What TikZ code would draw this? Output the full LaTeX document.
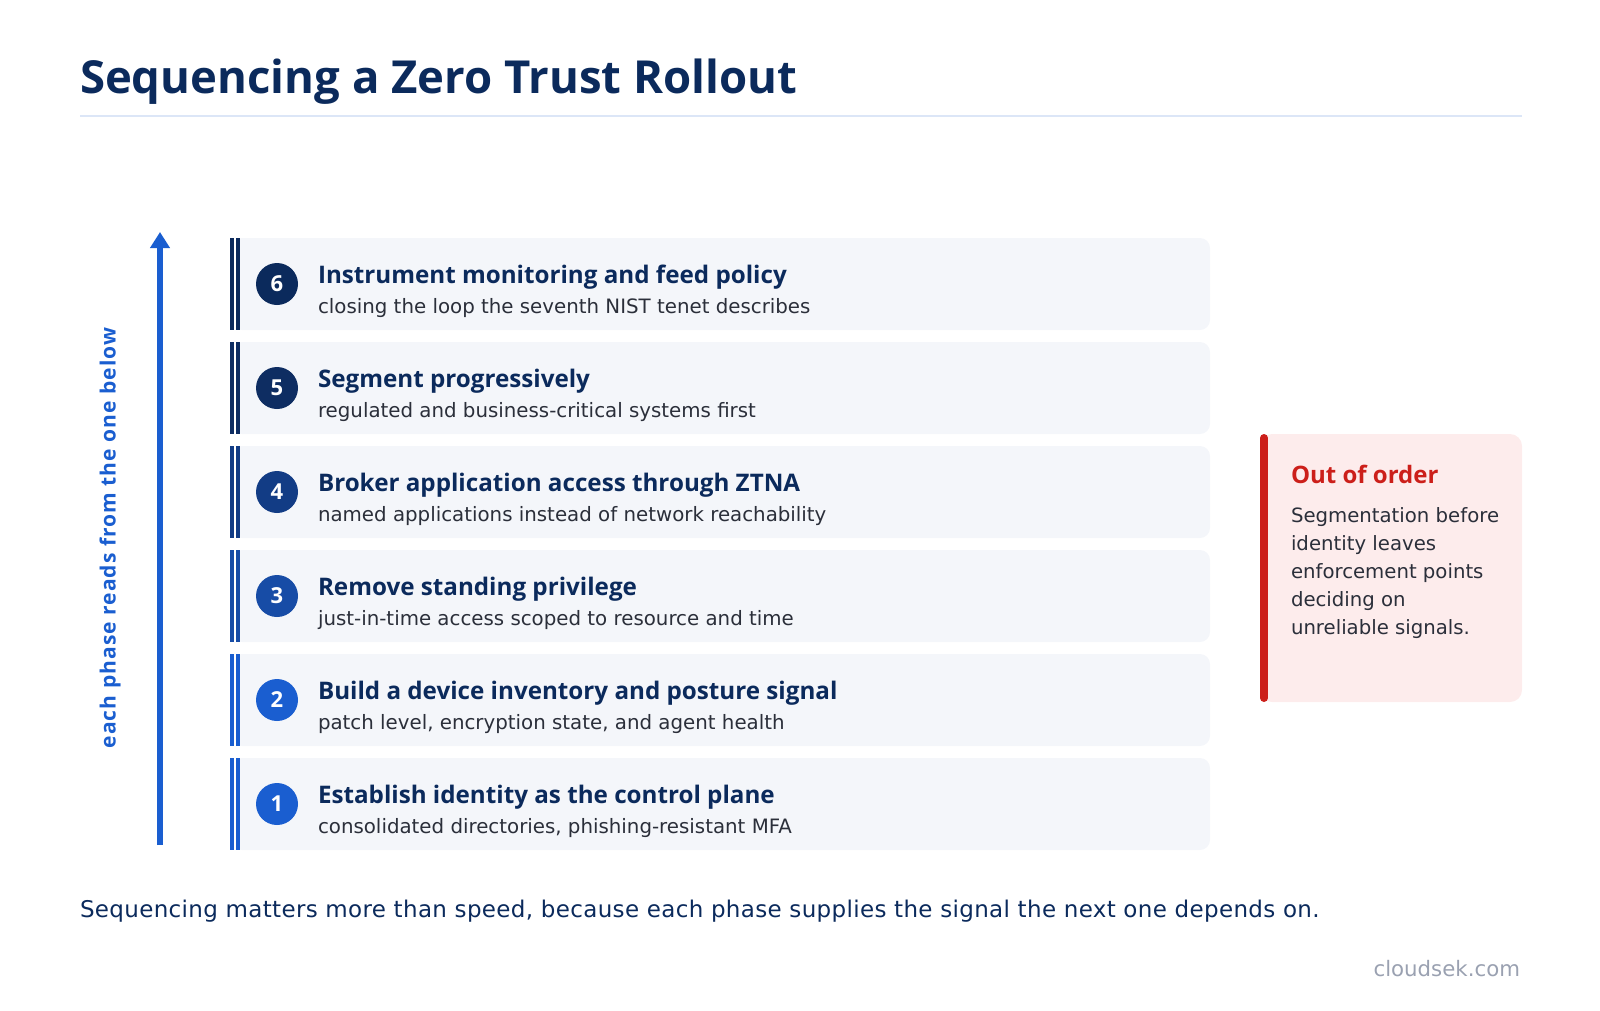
\documentclass[tikz,border=0pt]{standalone}
\usepackage{fontspec}
\setmainfont{Open Sans}
\newfontfamily\bodyfont{DejaVu Sans}
\newfontfamily\footfont[LetterSpace=1.5]{DejaVu Sans}
\newfontfamily\labelfont[LetterSpace=5]{Open Sans}
\usetikzlibrary{arrows.meta,positioning}

\definecolor{navy}{HTML}{0B2A5C}
\definecolor{ink}{HTML}{2B2F3A}
\definecolor{cardbg}{HTML}{F4F6FA}
\definecolor{rulebl}{HTML}{DCE6F7}
\definecolor{ph1}{HTML}{1A5ED0}
\definecolor{ph2}{HTML}{1A5ED0}
\definecolor{ph3}{HTML}{174CA6}
\definecolor{ph4}{HTML}{123C85}
\definecolor{ph5}{HTML}{0E2D62}
\definecolor{ph6}{HTML}{0B2A5C}
\definecolor{warnred}{HTML}{CC1F1A}
\definecolor{warnbg}{HTML}{FDECEC}
\definecolor{mutedgray}{HTML}{9AA1B1}

\begin{document}
\begin{tikzpicture}[
        x=1pt, y=-1pt,
        every node/.style={inner sep=0pt, outer sep=0pt},
        card/.style={fill=cardbg, rounded corners=10pt, minimum width=978pt, minimum height=92pt},
        stripe/.style={line width=4.2pt, double=white, double distance=2pt},
        badge/.style={circle, minimum size=42pt, text=white, font=\fontsize{22}{22}\selectfont\bfseries},
        phasetitle/.style={anchor=base west, text=navy, font=\fontsize{24.2}{28}\selectfont\bfseries},
        phasesub/.style={anchor=base west, text=ink, font=\bodyfont\fontsize{19.8}{24}\selectfont}
    ]
    \useasboundingbox (0,0) rectangle (1600,1010);

    % Title
    \node[anchor=base west, text=navy, font=\fontsize{45.5}{50}\selectfont\bfseries] (title) at (80,93) {Sequencing a Zero Trust Rollout};
    \coordinate (ruleA) at (80,116);
    \coordinate (ruleB) at (1522,116);
    \draw[rulebl, line width=2.5pt] (ruleA) -- (ruleB);

    % Phase cards
    \node[card] (c6) at (721,284) {};
    \node[card] (c5) at (721,388) {};
    \node[card] (c4) at (721,492) {};
    \node[card] (c3) at (721,596) {};
    \node[card] (c2) at (721,700) {};
    \node[card] (c1) at (721,804) {};

    \draw[stripe, ph6] ([xshift=3pt]c6.north west) -- ([xshift=3pt]c6.south west);
    \draw[stripe, ph5] ([xshift=3pt]c5.north west) -- ([xshift=3pt]c5.south west);
    \draw[stripe, ph4] ([xshift=3pt]c4.north west) -- ([xshift=3pt]c4.south west);
    \draw[stripe, ph3] ([xshift=3pt]c3.north west) -- ([xshift=3pt]c3.south west);
    \draw[stripe, ph2] ([xshift=3pt]c2.north west) -- ([xshift=3pt]c2.south west);
    \draw[stripe, ph1] ([xshift=3pt]c1.north west) -- ([xshift=3pt]c1.south west);

    % Badges
    \node[badge, fill=ph6] (b6) at (277,284) {6};
    \node[badge, fill=ph5] (b5) at (277,388) {5};
    \node[badge, fill=ph4] (b4) at (277,492) {4};
    \node[badge, fill=ph3] (b3) at (277,596) {3};
    \node[badge, fill=ph2] (b2) at (277,700) {2};
    \node[badge, fill=ph1] (b1) at (277,804) {1};

    % Phase texts
    \node[phasetitle] (t6) at (318,283) {Instrument monitoring and feed policy};
    \node[phasesub] (s6) at (318,313) {closing the loop the seventh NIST tenet describes};
    \node[phasetitle] (t5) at (318,387) {Segment progressively};
    \node[phasesub] (s5) at (318,417) {regulated and business-critical systems first};
    \node[phasetitle] (t4) at (318,491) {Broker application access through ZTNA};
    \node[phasesub] (s4) at (318,521) {named applications instead of network reachability};
    \node[phasetitle] (t3) at (318,595) {Remove standing privilege};
    \node[phasesub] (s3) at (318,625) {just-in-time access scoped to resource and time};
    \node[phasetitle] (t2) at (318,699) {Build a device inventory and posture signal};
    \node[phasesub] (s2) at (318,729) {patch level, encryption state, and agent health};
    \node[phasetitle] (t1) at (318,803) {Establish identity as the control plane};
    \node[phasesub] (s1) at (318,833) {consolidated directories, phishing-resistant MFA};

    % Direction arrow
    \coordinate (abot) at (160,845);
    \coordinate (atop) at (160,232);
    \draw[ph1, line width=6pt, -{Triangle[width=19pt,length=16pt]}] (abot) -- (atop);
    \node[rotate=90, text=ph1, font=\labelfont\fontsize{21}{24}\selectfont\bfseries] (dirlabel) at (110,538) {each phase reads from the one below};

    % Warning box
    \node[fill=warnbg, rounded corners=12pt, minimum width=262pt, minimum height=268pt] (warn) at (1391,568) {};
    \draw[warnred, line width=8pt, line cap=round] ([xshift=4pt,yshift=-4pt]warn.north west) -- ([xshift=4pt,yshift=4pt]warn.south west);
    \node[anchor=base west, text=warnred, font=\fontsize{24}{28}\selectfont\bfseries] (wtitle) at (1291,483) {Out of order};
    \node[anchor=north west, text=ink, align=left, font=\bodyfont\fontsize{19.7}{28}\selectfont] (wbody) at (1291,508) {Segmentation before\\identity leaves\\enforcement points\\deciding on\\unreliable signals.};

    % Footer
    \node[anchor=base west, text=navy, font=\footfont\fontsize{23}{26}\selectfont] (foot) at (80,917) {Sequencing matters more than speed, because each phase supplies the signal the next one depends on.};
    \node[anchor=base east, text=mutedgray, font=\bodyfont\fontsize{21.3}{24}\selectfont] (brand) at (1520,976) {cloudsek.com};

\end{tikzpicture}
\end{document}
